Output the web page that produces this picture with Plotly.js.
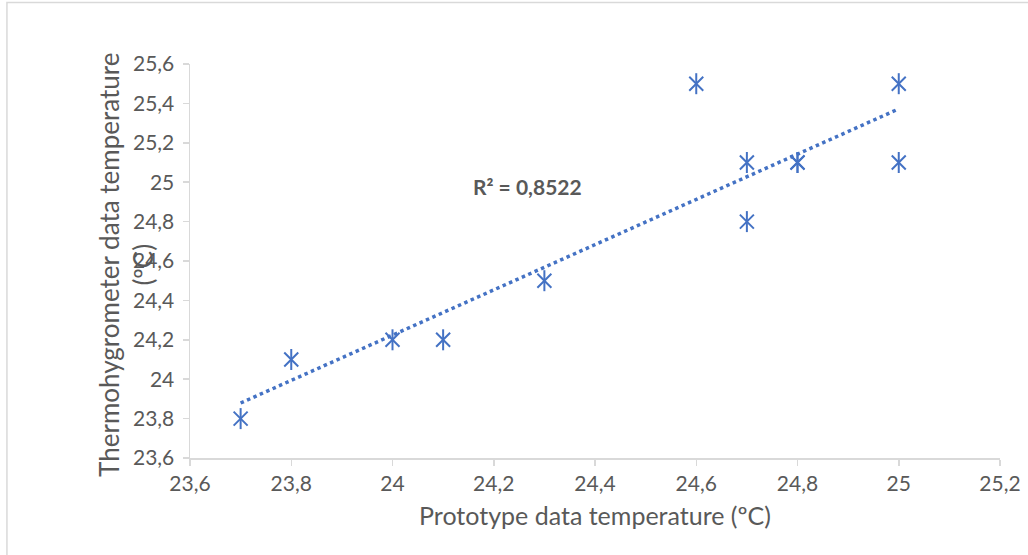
<!DOCTYPE html>
<html>
<head>
<meta charset="utf-8">
<script src="https://cdn.plot.ly/plotly-3.0.1.min.js"></script>
<style>html,body{margin:0;padding:0;background:#fff;}#chart{width:1028px;height:555px;}</style>
</head>
<body>
<div id="chart"></div>
<script>
// Data
const prototypeTemp = [23.7, 23.8, 24.0, 24.1, 24.3, 24.6, 24.7, 24.7, 24.8, 24.8, 25.0, 25.0];
const thermoTemp    = [23.8, 24.1, 24.2, 24.2, 24.5, 25.5, 25.1, 24.8, 25.1, 25.1, 25.5, 25.1];
const r2Label = 'R² = 0,8522';
const xTitle = 'Prototype data temperature (ºC)';
const yTitle = 'Thermohygrometer data temperature<br>(ºC)';

// Linear least-squares trendline
const n = prototypeTemp.length;
const mx = prototypeTemp.reduce((a,b)=>a+b,0)/n;
const my = thermoTemp.reduce((a,b)=>a+b,0)/n;
let sxy = 0, sxx = 0;
for (let i=0;i<n;i++){ sxy += (prototypeTemp[i]-mx)*(thermoTemp[i]-my); sxx += (prototypeTemp[i]-mx)**2; }
const slope = sxy/sxx, intercept = my - slope*mx;
const xMin = Math.min(...prototypeTemp), xMax = Math.max(...prototypeTemp);
const trendX = [xMin, xMax];
const trendY = trendX.map(x => intercept + slope*x);

const blue = '#4472C4';
const font = 'Lato, "Open Sans", sans-serif';

const traces = [
  {x: trendX, y: trendY, mode: 'lines', line: {color: blue, width: 3.5, dash: 'dot'}, hoverinfo: 'skip'},
  {x: prototypeTemp, y: thermoTemp, mode: 'markers',
   marker: {symbol: 'x-thin-open', size: 14, color: blue, line: {color: blue, width: 2}}},
  {x: prototypeTemp, y: thermoTemp, mode: 'markers',
   marker: {symbol: 'line-ns-open', size: 15, color: blue, line: {color: blue, width: 2}}}
];

const axisCommon = {
  showgrid: false, zeroline: false, showline: true, linecolor: '#d9d9d9', linewidth: 1.5,
  ticks: 'outside', ticklen: 6, tickcolor: '#d9d9d9', tickwidth: 1.5,
  tickfont: {family: font, size: 21, color: '#595959'}
};

const layout = {
  width: 1028, height: 555,
  margin: {l: 190, r: 28, t: 64, b: 97},
  paper_bgcolor: '#fff', plot_bgcolor: '#fff',
  separators: ',.',
  showlegend: false,
  font: {family: font, color: '#595959'},
  xaxis: Object.assign({}, axisCommon, {
    range: [23.6, 25.2], dtick: 0.2, tick0: 23.6,
    title: {text: xTitle, font: {family: font, size: 25, color: '#595959'}, standoff: 14}
  }),
  yaxis: Object.assign({}, axisCommon, {
    range: [23.6, 25.6], dtick: 0.2, tick0: 23.6, ticklabelstandoff: 4
  }),
  annotations: [
    {xref: 'paper', yref: 'paper', x: -0.079, y: 0.49, xanchor: 'center', yanchor: 'middle',
     textangle: -90, showarrow: false, text: yTitle, align: 'center',
     font: {family: font, size: 26, color: '#595959'}},
    {xref: 'x', yref: 'y', x: 24.266, y: 24.976, xanchor: 'center', yanchor: 'middle',
     showarrow: false, text: '<b>' + r2Label + '</b>',
     font: {family: font, size: 21, color: '#595959'}}
  ],
  shapes: [
    {type: 'rect', xref: 'paper', yref: 'paper', x0: -0.226, x1: 1.1, y0: -0.4, y1: 1.156,
     line: {color: '#d9d9d9', width: 1.5}, fillcolor: 'rgba(0,0,0,0)', layer: 'below'}
  ]
};

Plotly.newPlot('chart', traces, layout, {displayModeBar: false, staticPlot: true});
</script>
</body>
</html>
